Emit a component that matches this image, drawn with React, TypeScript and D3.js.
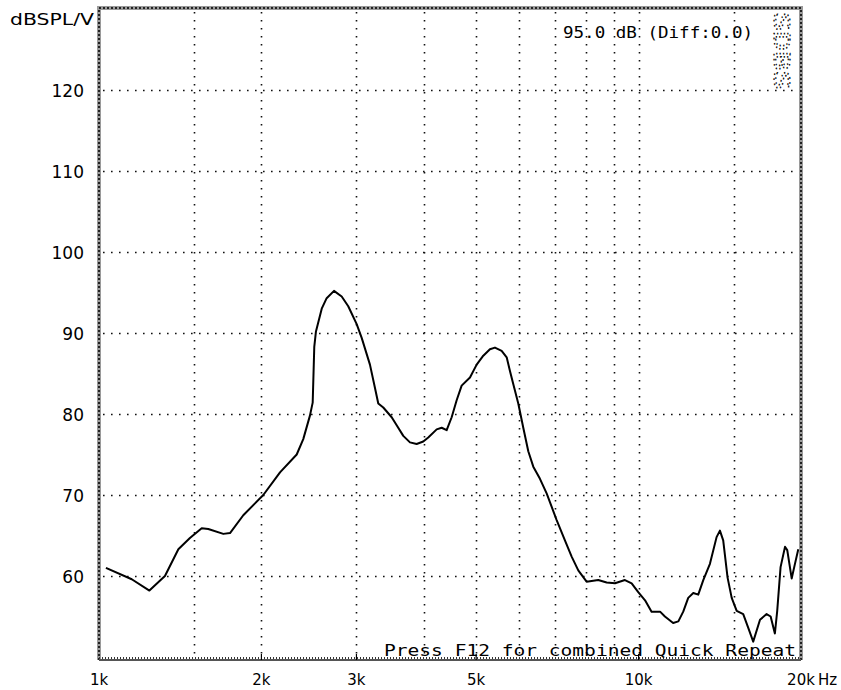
import { useEffect, useRef } from 'react';
import * as d3 from 'd3';

// frequency response (Hz, dB SPL/V)
const freqs = [
  1030, 1150, 1240, 1325, 1403, 1474, 1550, 1594, 1700, 1749, 1851, 2016, 2165, 2325, 2391, 2460,
  2489, 2506, 2524, 2587, 2642, 2726, 2817, 2897, 3003, 3068, 3178, 3247, 3293, 3364, 3487, 3562,
  3664, 3770, 3879, 3990, 4076, 4225, 4316, 4409, 4504, 4601, 4700, 4870, 5011, 5155, 5303, 5418,
  5575, 5696, 5776, 5858, 5985, 6114, 6246, 6381, 6565, 6755, 7050, 7303, 7516, 7731, 8011, 8419,
  8726, 9042, 9435, 9709, 9986, 10280, 10570, 10960, 11190, 11590, 11850, 12100, 12360, 12630,
  12900, 13180, 13560, 13950, 14150, 14350, 14620, 14880, 15200, 15630, 15970, 16310, 16790,
  17270, 17570, 17890, 18070, 18330, 18680, 18860, 19220, 19490, 19770,
];
const levels = [
  61.0, 59.6, 58.2, 60.0, 63.3, 64.7, 65.9, 65.8, 65.2, 65.3, 67.5, 70.0, 72.8, 75.0, 76.9, 79.8,
  81.4, 88.3, 90.2, 93.0, 94.3, 95.2, 94.5, 93.3, 91.1, 89.4, 86.1, 83.2, 81.3, 80.8, 79.6, 78.6,
  77.3, 76.5, 76.3, 76.6, 77.1, 78.1, 78.3, 78.0, 79.6, 81.7, 83.5, 84.5, 86.1, 87.2, 88.0, 88.2,
  87.8, 87.0, 85.3, 83.7, 81.3, 78.3, 75.4, 73.5, 72.0, 70.2, 66.9, 64.4, 62.4, 60.7, 59.3, 59.5,
  59.2, 59.1, 59.5, 59.1, 58.0, 57.0, 55.6, 55.6, 55.0, 54.2, 54.4, 55.6, 57.3, 57.9,
  57.7, 59.5, 61.5, 64.8, 65.6, 64.4, 59.8, 57.3, 55.7, 55.3, 53.6, 51.9, 54.6,
  55.3, 55.0, 52.9, 55.7, 61.1, 63.6, 63.2, 59.7, 61.5, 63.3,
];

const yTicks = [60, 70, 80, 90, 100, 110, 120];
const xGridFreqs = [1500, 2000, 3000, 4000, 5000, 6000, 7000, 8000, 9000, 10000, 15000];
const xTickFreqs = [1000, 2000, 3000, 5000, 10000, 20000];
const xTickLabels = ['1k', '2k', '3k', '5k', '10k', '20k'];

const W = 841;
const H = 690;
const FONT = '"DejaVu Sans", Verdana, sans-serif';
const MONO = '"DejaVu Sans Mono", "Liberation Mono", monospace';

export default function App() {
  const svgRef = useRef<SVGSVGElement>(null);

  useEffect(() => {
    document.body.style.margin = '0';
    if (!svgRef.current) return;
    const svg = d3.select(svgRef.current);
    svg.selectAll('*').remove();

    const left = 99, right = 801, top = 8, bottom = 660;
    const x = d3.scaleLog().domain([1000, 20000]).range([left, right]);
    const y = d3.scaleLinear().domain([50, 130]).range([657, 9]);

    svg.append('rect').attr('width', W).attr('height', H).attr('fill', '#fff');

    // dotted grid
    const grid = svg.append('g').attr('stroke', '#111').attr('stroke-width', 1.6)
      .attr('stroke-dasharray', '1.6 6.4');
    grid.selectAll('.hg').data(yTicks).enter().append('line')
      .attr('x1', left + 4).attr('x2', right - 2)
      .attr('y1', d => Math.round(y(d)) + 0.5).attr('y2', d => Math.round(y(d)) + 0.5);
    grid.selectAll('.vg').data(xGridFreqs).enter().append('line')
      .attr('x1', d => Math.round(x(d)) + 0.5).attr('x2', d => Math.round(x(d)) + 0.5)
      .attr('y1', top + 4).attr('y2', bottom - 2);

    // response curve
    const line = d3.line<number>()
      .x((_, i) => x(freqs[i]))
      .y(d => y(d))
      .curve(d3.curveLinear);
    svg.append('path')
      .datum(levels)
      .attr('d', line)
      .attr('fill', 'none')
      .attr('stroke', '#000')
      .attr('stroke-width', 2)
      .attr('stroke-linejoin', 'round');

    // textured frame (left, top, right)
    const frame = svg.append('g');
    const framePath = `M${left},${bottom} L${left},${top} L${right},${top} L${right},${bottom}`;
    frame.append('path').attr('d', framePath).attr('fill', 'none')
      .attr('stroke', '#9a9a9a').attr('stroke-width', 4);
    frame.append('path').attr('d', framePath).attr('fill', 'none')
      .attr('stroke', '#222').attr('stroke-width', 2).attr('stroke-dasharray', '2 2');
    // bottom edge with small ticks
    frame.append('line').attr('x1', left).attr('x2', right).attr('y1', bottom).attr('y2', bottom)
      .attr('stroke', '#555').attr('stroke-width', 2);
    frame.append('line').attr('x1', left).attr('x2', right).attr('y1', bottom - 2).attr('y2', bottom - 2)
      .attr('stroke', '#333').attr('stroke-width', 2).attr('stroke-dasharray', '1 2');
    frame.selectAll('.mt').data(xTickFreqs.slice(1, -1)).enter().append('line')
      .attr('x1', d => x(d)).attr('x2', d => x(d)).attr('y1', bottom).attr('y2', bottom - 6)
      .attr('stroke', '#000').attr('stroke-width', 1.2);

    // y labels
    svg.selectAll('.yl').data(yTicks).enter().append('text')
      .attr('x', 84).attr('y', d => y(d) + 7)
      .attr('text-anchor', 'end')
      .attr('font-family', FONT).attr('font-size', 17).attr('fill', '#000')
      .text(d => d);

    svg.append('text').attr('x', 10).attr('y', 25)
      .attr('font-family', FONT).attr('font-size', 15)
      .attr('textLength', 84).attr('lengthAdjust', 'spacingAndGlyphs')
      .text('dBSPL/V');

    // x labels
    svg.selectAll('.xl').data(xTickFreqs).enter().append('text')
      .attr('x', d => x(d)).attr('y', 685)
      .attr('text-anchor', 'middle')
      .attr('font-family', FONT).attr('font-size', 15)
      .text((_, i) => xTickLabels[i]);
    svg.append('text').attr('x', x(20000) + 17).attr('y', 685)
      .attr('font-family', FONT).attr('font-size', 15).text('Hz');

    // annotations
    svg.append('text').attr('x', 563).attr('y', 38)
      .attr('font-family', MONO).attr('font-size', 16)
      .attr('textLength', 190).attr('lengthAdjust', 'spacingAndGlyphs')
      .text('95.0 dB (Diff:0.0)');

    svg.append('text').attr('x', 384).attr('y', 656)
      .attr('font-family', MONO).attr('font-size', 16)
      .attr('textLength', 412).attr('lengthAdjust', 'spacingAndGlyphs')
      .text('Press F12 for combined Quick Repeat');

    svg.append('text')
      .attr('transform', `translate(774,12) rotate(90)`)
      .attr('font-family', MONO).attr('font-size', 22)
      .attr('fill', 'none').attr('stroke', '#000').attr('stroke-width', 1.2)
      .attr('stroke-dasharray', '1.2 2.2')
      .attr('textLength', 78).attr('lengthAdjust', 'spacingAndGlyphs')
      .text('SDBS');
  }, []);

  return (
    <div style={{ position: 'absolute', left: 0, top: 0 }}>
      <svg ref={svgRef} width={W} height={H} />
    </div>
  );
}
